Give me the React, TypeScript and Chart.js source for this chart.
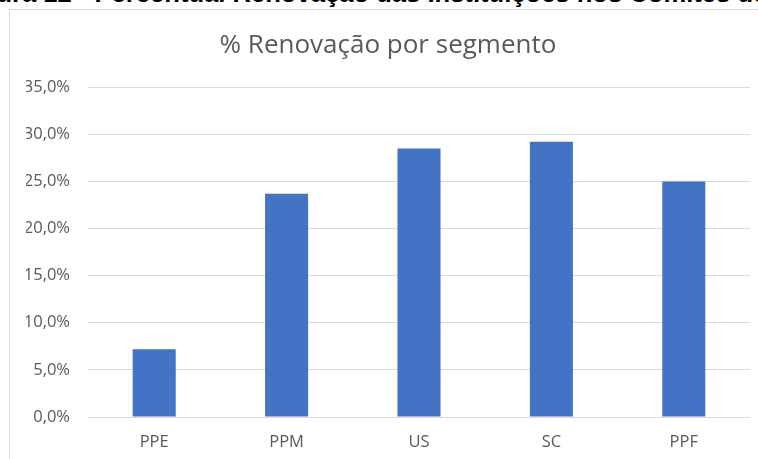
import React, { useEffect, useRef } from "react";
import { Chart, registerables } from "chart.js";

Chart.register(...registerables);

const categories = ["PPE", "PPM", "US", "SC", "PPF"];
const renovacao = [7.2, 23.7, 28.5, 29.2, 25.0];
const yTicks = [0, 5, 10, 15, 20, 25, 30, 35];
const chartTitle = "% Renovação por segmento";
const caption = "Figura 12 - Percentual Renovação das Instituições nos Comitês de Ética";

export default function App() {
  const ref = useRef<HTMLCanvasElement | null>(null);

  useEffect(() => {
    if (!ref.current) return;
    const chart = new Chart(ref.current, {
      type: "bar",
      data: {
        labels: categories,
        datasets: [
          {
            label: chartTitle,
            data: renovacao,
            backgroundColor: "#4472C4",
            borderWidth: 0,
            categoryPercentage: 1,
            barPercentage: 0.325,
          },
        ],
      },
      options: {
        responsive: false,
        animation: false,
        layout: { padding: { left: 26, right: 8, top: 0, bottom: 0 } },
        plugins: {
          legend: { display: false },
          tooltip: { enabled: false },
          title: {
            display: true,
            text: chartTitle,
            color: "#595959",
            font: { family: "'Open Sans', sans-serif", size: 26, weight: "normal", lineHeight: 1.2 },
            padding: { top: 30, bottom: 26 },
          },
        },
        scales: {
          x: {
            grid: { display: false, drawTicks: false },
            border: { display: false },
            ticks: {
              color: "#595959",
              font: { family: "'Open Sans', sans-serif", size: 16.5 },
              padding: 15,
            },
            afterFit: (s: any) => {
              s.height = 42;
            },
          },
          y: {
            min: 0,
            max: 35,
            afterBuildTicks: (s: any) => {
              s.ticks = yTicks.map((v) => ({ value: v }));
            },
            grid: { color: "#D9D9D9", lineWidth: 1, drawTicks: false },
            border: { display: false },
            ticks: {
              color: "#595959",
              font: { family: "'Open Sans', sans-serif", size: 16.5 },
              padding: 18,
              callback: (v: any) => Number(v).toFixed(1).replace(".", ",") + "%",
            },
            afterFit: (s: any) => {
              s.width = 62;
            },
          },
        },
      },
    });
    return () => chart.destroy();
  }, []);

  return (
    <div
      style={{
        position: "absolute",
        left: 0,
        top: 0,
        width: 758,
        height: 459,
        overflow: "hidden",
        background: "#fff",
      }}
    >
      <div
        style={{
          position: "absolute",
          left: -42,
          top: -20,
          whiteSpace: "nowrap",
          fontFamily: "'Liberation Sans', Arial, sans-serif",
          fontWeight: "bold",
          fontSize: 25.6,
          lineHeight: "26px",
          color: "#000",
        }}
      >
        {caption}
      </div>
      <div
        style={{
          position: "absolute",
          left: 9,
          top: 9,
          width: 800,
          height: 500,
          border: "1px solid #D9D9D9",
          boxSizing: "border-box",
        }}
      />
      <canvas
        ref={ref}
        width={758}
        height={459}
        style={{ position: "absolute", left: 0, top: 0, width: 758, height: 459 }}
      />
    </div>
  );
}
